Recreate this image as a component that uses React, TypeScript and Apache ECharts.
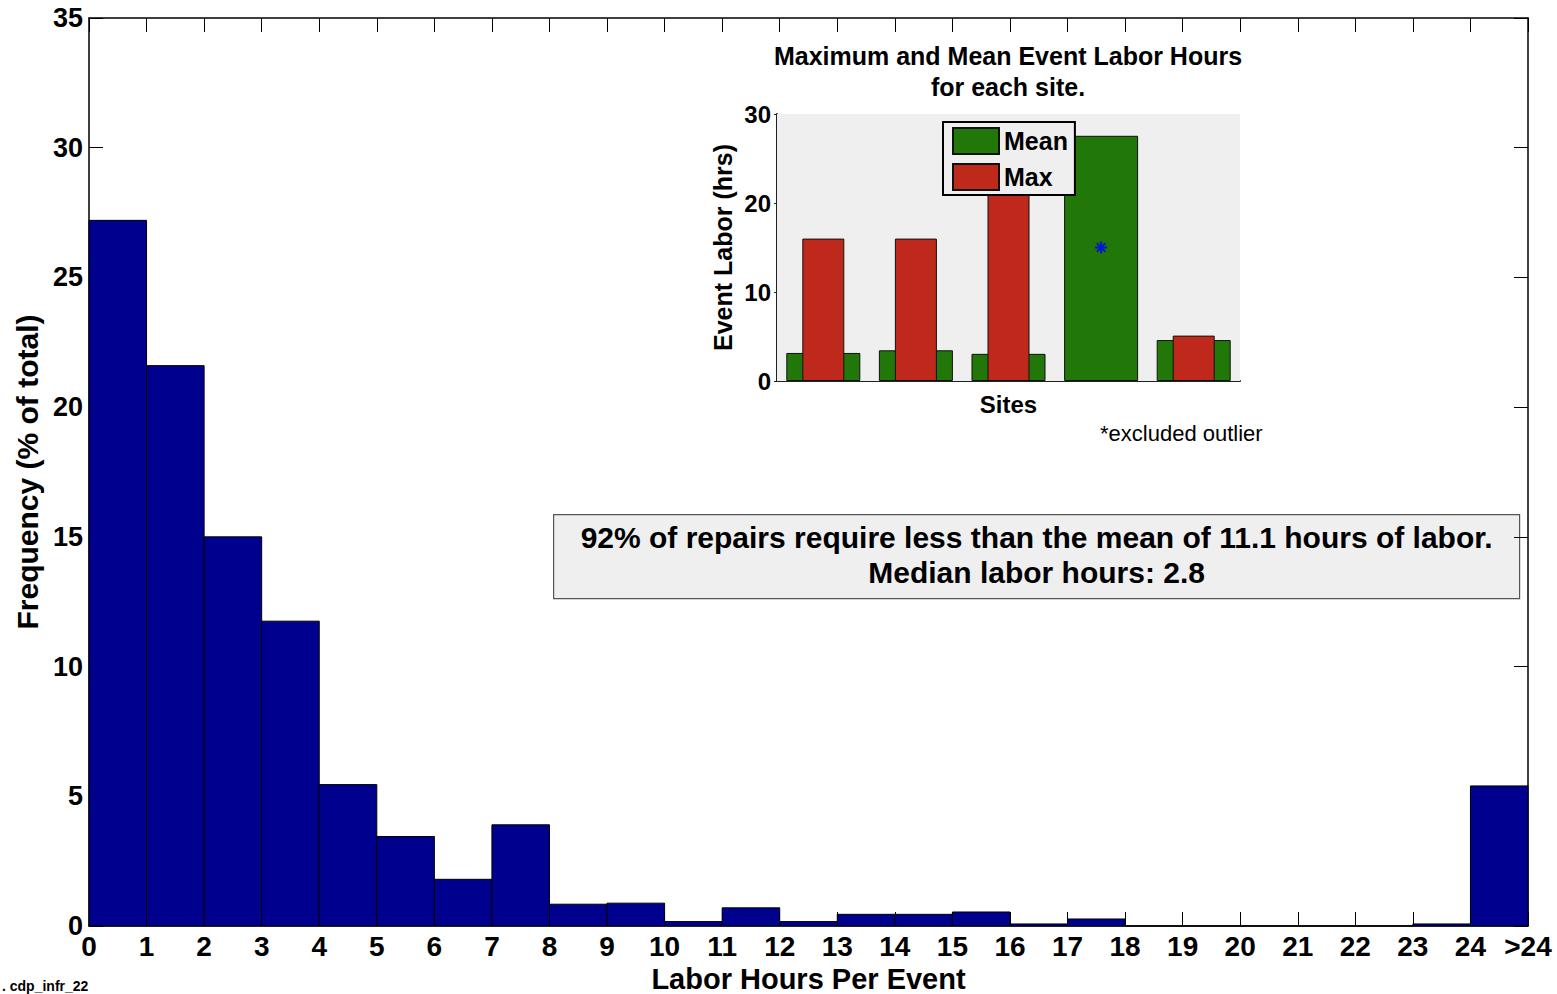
import React, { useEffect, useRef } from "react";
import * as echarts from "echarts";

// Histogram: bins of labor hours per event (bin start), frequency (% of total)
const binStarts = [0, 1, 2, 3, 4, 5, 6, 7, 8, 9, 10, 11, 12, 13, 14, 15, 16, 17, 18, 19, 20, 21, 22, 23, 24];
const frequency = [27.2, 21.6, 15.0, 11.75, 5.45, 3.45, 1.8, 3.9, 0.84, 0.88, 0.17, 0.7, 0.17, 0.45, 0.45, 0.54, 0.08, 0.27, 0, 0, 0, 0, 0, 0.08, 5.4];
const yTicks = [0, 5, 10, 15, 20, 25, 30, 35];

// Inset: mean and max event labor hours per site
const sites = ["Site 1", "Site 2", "Site 3", "Site 4", "Site 5"];
const meanHours = [3.15, 3.45, 3.05, 27.55, 4.6];
const maxHours: (number | null)[] = [16.0, 16.0, 24.0, null, 5.1];
const outlierSite = 3;
const outlierValue = 15.0;

const FONT = "'Liberation Sans', Arial, Helvetica, sans-serif";

export default function App() {
  const ref = useRef<HTMLDivElement>(null);
  useEffect(() => {
    if (!ref.current) return;
    const chart = echarts.init(ref.current, null, { renderer: "svg" });
    const histData = binStarts.map((b, i) => [b, frequency[i]]);
    const option: any = {
      animation: false,
      backgroundColor: "#ffffff",
      textStyle: { fontFamily: FONT },
      title: {
        text: "Maximum and Mean Event Labor Hours\nfor each site.",
        left: 1003,
        top: 35,
        textAlign: "center",
        textStyle: { fontFamily: FONT, fontSize: 25, fontWeight: "bold", color: "#000", lineHeight: 31 },
      },
      legend: {
        data: ["Mean", "Max"],
        orient: "vertical",
        left: 943,
        top: 122,
        padding: [5, 7, 4, 9],
        itemWidth: 46,
        itemHeight: 26,
        itemGap: 8,
        icon: "rect",
        backgroundColor: "#efefef",
        borderColor: "#000",
        borderWidth: 2,
        z: 20,
        textStyle: { fontFamily: FONT, fontSize: 25, fontWeight: "bold", color: "#000", lineHeight: 26 },
      },
      grid: [
        { left: 89, top: 18, width: 1439, height: 908, show: false, outerBoundsMode: "none", containLabel: false },
        {
          left: 777,
          top: 114,
          width: 463,
          height: 267,
          show: true,
          backgroundColor: "#efefef",
          borderWidth: 0,
          z: 1,
          outerBoundsMode: "none",
          containLabel: false,
        },
      ],
      xAxis: [
        {
          type: "value",
          gridIndex: 0,
          min: 0,
          max: 25,
          interval: 1,
          name: "Labor Hours Per Event",
          nameLocation: "middle",
          nameGap: 37,
          nameTextStyle: { fontFamily: FONT, fontSize: 29, fontWeight: "bold", color: "#000", lineHeight: 29 },
          axisLine: { show: true, onZero: false, lineStyle: { color: "#000", width: 1.5 } },
          axisTick: { show: true, inside: true, length: 14, lineStyle: { color: "#000", width: 1 } },
          axisLabel: {
            fontFamily: FONT,
            fontSize: 28,
            fontWeight: "bold",
            color: "#000",
            margin: 6,
            formatter: (v: number) => (v === 25 ? ">24" : String(v)),
          },
          splitLine: { show: false },
        },
        {
          type: "value",
          gridIndex: 0,
          position: "top",
          min: 0,
          max: 25,
          interval: 1,
          axisLine: { show: true, onZero: false, lineStyle: { color: "#000", width: 1.5 } },
          axisTick: { show: true, inside: true, length: 14, lineStyle: { color: "#000", width: 1 } },
          axisLabel: { show: false },
          splitLine: { show: false },
        },
        {
          type: "category",
          gridIndex: 1,
          data: sites,
          name: "Sites",
          nameLocation: "middle",
          nameGap: 11,
          nameTextStyle: { fontFamily: FONT, fontSize: 24, fontWeight: "bold", color: "#000", verticalAlign: "top" },
          axisLine: { show: true, onZero: false, lineStyle: { color: "#222", width: 2 } },
          axisTick: { show: false },
          axisLabel: { show: false },
        },
        {
          type: "category",
          gridIndex: 1,
          data: sites,
          show: false,
        },
      ],
      yAxis: [
        {
          type: "value",
          gridIndex: 0,
          min: 0,
          max: 35,
          interval: 5,
          name: "Frequency (% of total)",
          nameLocation: "middle",
          nameGap: 46,
          nameTextStyle: { fontFamily: FONT, fontSize: 30, fontWeight: "bold", color: "#000" },
          axisLine: { show: true, onZero: false, lineStyle: { color: "#000", width: 1.5 } },
          axisTick: { show: true, inside: true, length: 14, lineStyle: { color: "#000", width: 1 } },
          axisLabel: {
            fontFamily: FONT,
            fontSize: 27,
            fontWeight: "bold",
            color: "#000",
            margin: 6,
            customValues: yTicks,
          },
          splitLine: { show: false },
        },
        {
          type: "value",
          gridIndex: 0,
          position: "right",
          min: 0,
          max: 35,
          interval: 5,
          axisLine: { show: true, onZero: false, lineStyle: { color: "#000", width: 1.5 } },
          axisTick: { show: true, inside: true, length: 14, lineStyle: { color: "#000", width: 1 } },
          axisLabel: { show: false },
          splitLine: { show: false },
        },
        {
          type: "value",
          gridIndex: 1,
          min: 0,
          max: 30,
          interval: 10,
          name: "Event Labor (hrs)",
          nameLocation: "middle",
          nameGap: 42,
          nameTextStyle: { fontFamily: FONT, fontSize: 25, fontWeight: "bold", color: "#000" },
          axisLine: { show: true, onZero: false, lineStyle: { color: "#222", width: 2 } },
          axisTick: { show: true, inside: false, length: 3, lineStyle: { color: "#222" } },
          axisLabel: { fontFamily: FONT, fontSize: 24, fontWeight: "bold", color: "#000", margin: 6 },
          splitLine: { show: false },
        },
      ],
      series: [
        {
          type: "custom",
          name: "Frequency",
          xAxisIndex: 0,
          yAxisIndex: 0,
          data: histData,
          renderItem: (params: any, api: any) => {
            const x0 = api.value(0);
            const v = api.value(1);
            const p0 = api.coord([x0, 0]);
            const p1 = api.coord([x0 + 1, v]);
            return {
              type: "rect",
              shape: { x: p0[0], y: p1[1], width: p1[0] - p0[0], height: p0[1] - p1[1] },
              style: { fill: "#00008f", stroke: "#000", lineWidth: 1 },
            };
          },
          z: 2,
        },
        {
          type: "bar",
          name: "Mean",
          xAxisIndex: 2,
          yAxisIndex: 2,
          data: meanHours,
          barWidth: 74,
          itemStyle: { color: "#217808", borderColor: "#111", borderWidth: 1 },
          z: 3,
        },
        {
          type: "bar",
          name: "Max",
          xAxisIndex: 3,
          yAxisIndex: 2,
          data: maxHours,
          barWidth: 42,
          itemStyle: { color: "#bf291c", borderColor: "#111", borderWidth: 1 },
          z: 4,
        },
        {
          type: "scatter",
          name: "Outlier",
          xAxisIndex: 2,
          yAxisIndex: 2,
          data: [[outlierSite, outlierValue]],
          symbol: "path://M0,-5L0,5M-5,0L5,0M-3.5,-3.5L3.5,3.5M-3.5,3.5L3.5,-3.5",
          symbolSize: 12,
          itemStyle: { color: "none", borderColor: "#0000ff", borderWidth: 2 },
          z: 6,
        },
      ],
      graphic: [
        {
          type: "text",
          left: 1100,
          top: 422,
          style: { text: "*excluded outlier", fontFamily: FONT, fontSize: 22, fill: "#000" },
        },
        {
          type: "group",
          left: 553,
          top: 514,
          children: [
            {
              type: "rect",
              shape: { x: 0, y: 0, width: 966, height: 84 },
              style: { fill: "#efefef", stroke: "#555", lineWidth: 1.2 },
            },
            {
              type: "text",
              x: 483,
              y: 23,
              style: {
                text: "92% of repairs require less than the mean of 11.1 hours of labor.",
                fontFamily: FONT,
                fontSize: 30,
                fontWeight: "bold",
                fill: "#000",
                align: "center",
                verticalAlign: "middle",
              },
            },
            {
              type: "text",
              x: 483,
              y: 58,
              style: {
                text: "Median labor hours: 2.8",
                fontFamily: FONT,
                fontSize: 30,
                fontWeight: "bold",
                fill: "#000",
                align: "center",
                verticalAlign: "middle",
              },
            },
          ],
        },
        {
          type: "text",
          left: 2,
          top: 979,
          style: { text: ". cdp_infr_22", fontFamily: FONT, fontSize: 14, fontWeight: "bold", fill: "#000" },
        },
      ],
    };
    chart.setOption(option);
    return () => chart.dispose();
  }, []);
  return (
    <div
      ref={ref}
      style={{ position: "fixed", left: 0, top: 0, width: 1557, height: 994 }}
    />
  );
}
